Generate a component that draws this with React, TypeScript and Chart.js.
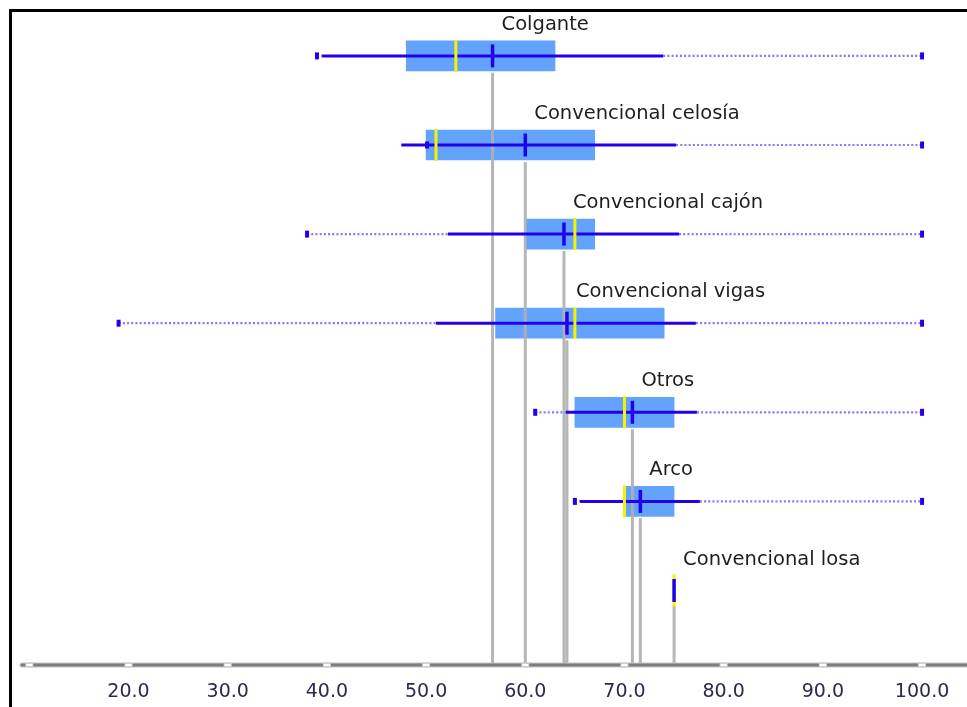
import React, { useEffect, useRef } from 'react';
import { Chart, registerables } from 'chart.js';

Chart.register(...registerables);

// ---- data ----
const categories = [
  'Colgante',
  'Convencional celosía',
  'Convencional cajón',
  'Convencional vigas',
  'Otros',
  'Arco',
  'Convencional losa',
];
const lowerBound = [39.0, 50.1, 38.0, 19.0, 61.0, 65.0, 75.0];
const whiskerLow = [39.5, 47.5, 52.2, 51.0, 64.1, 65.5, 75.0];
const q1 = [48.0, 50.0, 60.1, 57.0, 65.0, 70.1, 75.0];
const median = [53.0, 51.0, 65.0, 65.0, 70.0, 70.0, 75.0];
const mean = [56.7, 60.0, 63.9, 64.2, 70.8, 71.6, 75.0];
const q3 = [63.0, 67.0, 67.0, 74.0, 75.0, 75.0, 75.0];
const whiskerHigh = [73.9, 75.2, 75.5, 77.2, 77.3, 77.6, 75.0];
const upperBound = [100, 100, 100, 100, 100, 100, 75.0];
const xTickValues = [10, 20, 30, 40, 50, 60, 70, 80, 90, 100];

// ---- layout constants ----
const X_MIN = 8.96;
const X_MAX = 104.53;
const Y_MIN = -0.6274;
const Y_MAX = 6.8361;

const BLUE = '#2200ee';
const DOT_BLUE = '#8476ff';
const BOX_BLUE = '#63a3fb';
const YELLOW = '#f4f400';
const GRAY_LINE = 'rgba(176,176,176,0.92)';

const overlayPlugin = {
  id: 'overlay',
  afterDatasetsDraw(chart: any) {
    const { ctx, chartArea, scales } = chart;
    const x = scales.x;
    const y = scales.y;
    const yb = chartArea.bottom;
    ctx.save();
    // axis line
    ctx.lineCap = 'round';
    ctx.strokeStyle = '#c6c6c6';
    ctx.lineWidth = 5;
    ctx.beginPath();
    ctx.moveTo(chartArea.left + 3, yb);
    ctx.lineTo(chartArea.right + 6, yb);
    ctx.stroke();
    ctx.strokeStyle = '#7e7e7e';
    ctx.lineWidth = 3;
    ctx.beginPath();
    ctx.moveTo(chartArea.left + 3, yb);
    ctx.lineTo(chartArea.right + 6, yb);
    ctx.stroke();
    // tick markers
    x.ticks.forEach((t: any) => {
      const px = x.getPixelForValue(t.value);
      ctx.fillStyle = '#d0d0d0';
      ctx.fillRect(px - 4, yb - 2.5, 8, 5);
      ctx.fillStyle = '#ffffff';
      ctx.fillRect(px - 3, yb - 1, 6, 2);
    });
    // category labels
    ctx.font = '19.5px "DejaVu Sans"';
    ctx.fillStyle = '#1e1e1e';
    ctx.textAlign = 'left';
    ctx.textBaseline = 'alphabetic';
    categories.forEach((c, i) => {
      ctx.fillText(c, x.getPixelForValue(mean[i]) + 9, y.getPixelForValue(i) - 26);
    });
    ctx.restore();
  },
};

export default function App() {
  const ref = useRef<HTMLCanvasElement | null>(null);

  useEffect(() => {
    if (!ref.current) return;
    const rows = categories.map((_, i) => i);
    const datasets: any[] = [];

    // boxes
    datasets.push({
      type: 'bar',
      label: 'box',
      indexAxis: 'y',
      data: rows.filter((i) => q3[i] > q1[i]).map((i) => ({ x: [q1[i], q3[i]], y: i })),
      backgroundColor: BOX_BLUE,
      borderWidth: 0,
      barThickness: 30,
      order: 10,
    });

    // gray reference lines from each mean down to the axis
    rows.forEach((i) => {
      datasets.push({
        type: 'line',
        label: 'ref' + i,
        data: [
          { x: mean[i], y: i + (q3[i] > q1[i] ? 0.19 : 0.16) },
          { x: mean[i], y: Y_MAX },
        ],
        borderColor: GRAY_LINE,
        borderWidth: 3,
        pointRadius: 0,
        order: 9,
      });
    });

    // dotted outer segments
    rows.forEach((i) => {
      if (lowerBound[i] < whiskerLow[i]) {
        datasets.push({
          type: 'line',
          label: 'lowDots' + i,
          data: [
            { x: lowerBound[i], y: i },
            { x: whiskerLow[i], y: i },
          ],
          borderColor: DOT_BLUE,
          borderWidth: 2.2,
          borderDash: [2, 2.2],
          pointRadius: 0,
          order: 8,
        });
      }
      if (upperBound[i] > whiskerHigh[i]) {
        datasets.push({
          type: 'line',
          label: 'highDots' + i,
          data: [
            { x: whiskerHigh[i], y: i },
            { x: upperBound[i], y: i },
          ],
          borderColor: DOT_BLUE,
          borderWidth: 2.2,
          borderDash: [2, 2.2],
          pointRadius: 0,
          order: 8,
        });
      }
    });

    // solid whiskers
    rows.forEach((i) => {
      if (whiskerHigh[i] > whiskerLow[i]) {
        datasets.push({
          type: 'line',
          label: 'whisker' + i,
          data: [
            { x: whiskerLow[i], y: i },
            { x: whiskerHigh[i], y: i },
          ],
          borderColor: BLUE,
          borderWidth: 3,
          pointRadius: 0,
          order: 7,
        });
      }
    });

    // end markers
    const ends: any[] = [];
    rows.forEach((i) => {
      if (upperBound[i] > lowerBound[i]) {
        ends.push({ x: lowerBound[i], y: i });
        ends.push({ x: upperBound[i], y: i });
      }
    });
    datasets.push({
      type: 'line',
      label: 'ends',
      data: ends,
      showLine: false,
      pointStyle: 'line',
      pointRotation: 90,
      pointRadius: 3.5,
      pointBorderWidth: 4,
      pointBorderColor: BLUE,
      pointBackgroundColor: BLUE,
      order: 6,
    });

    // medians (yellow)
    datasets.push({
      type: 'line',
      label: 'median',
      data: rows.map((i) => ({ x: median[i], y: i })),
      showLine: false,
      pointStyle: 'line',
      pointRotation: 90,
      pointRadius: 16,
      pointBorderWidth: 3,
      pointBorderColor: YELLOW,
      order: 5,
    });

    // means (blue)
    datasets.push({
      type: 'line',
      label: 'mean',
      data: rows.map((i) => ({ x: mean[i], y: i })),
      showLine: false,
      pointStyle: 'line',
      pointRotation: 90,
      pointRadius: 11.5,
      pointBorderWidth: 3.5,
      pointBorderColor: BLUE,
      order: 4,
    });

    const chart = new Chart(ref.current, {
      type: 'line',
      data: { datasets },
      options: {
        responsive: false,
        animation: false,
        events: [],
        layout: { autoPadding: false, padding: { left: 19, right: 0, top: 0, bottom: 0 } },
        plugins: {
          legend: { display: false },
          tooltip: { enabled: false },
        },
        scales: {
          x: {
            type: 'linear',
            min: X_MIN,
            max: X_MAX,
            offset: false,
            grid: { display: false },
            border: { display: false },
            afterBuildTicks: (scale: any) => {
              scale.ticks = xTickValues.map((v) => ({ value: v }));
            },
            afterFit: (scale: any) => {
              scale.height = 42;
            },
            ticks: {
              autoSkip: false,
              maxRotation: 0,
              padding: 8,
              color: '#2a2a4e',
              font: { family: '"DejaVu Sans"', size: 19 },
              callback: (v: any) => (Number(v) >= 20 ? Number(v).toFixed(1) : ''),
            },
          },
          y: {
            type: 'linear',
            display: false,
            reverse: true,
            min: Y_MIN,
            max: Y_MAX,
            offset: false,
            grid: { offset: false },
          },
        },
      } as any,
      plugins: [overlayPlugin],
    } as any);

    return () => chart.destroy();
  }, []);

  return (
    <div style={{ position: 'absolute', left: 0, top: 0, width: 967, height: 707, background: '#fff', overflow: 'hidden' }}>
      <div
        style={{
          position: 'absolute',
          left: 9,
          top: 9,
          width: 980,
          height: 720,
          borderLeft: '3px solid #000',
          borderTop: '3px solid #000',
        }}
      />
      <canvas
        ref={ref}
        width={967}
        height={707}
        style={{ position: 'absolute', left: 0, top: 0, width: 967, height: 707 }}
      />
    </div>
  );
}
